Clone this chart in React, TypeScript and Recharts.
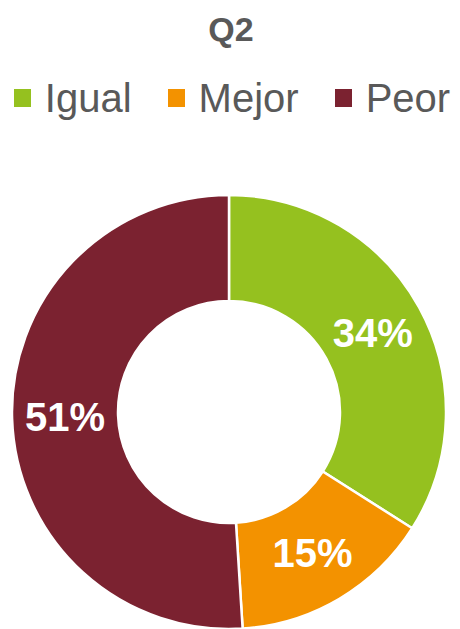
import React from "react";
import { PieChart, Pie, Cell } from "recharts";

const categories = ["Igual", "Mejor", "Peor"];
const values = [34, 15, 51];
const colors = ["#95C11F", "#F39200", "#7B2230"];
const title = "Q2";

const data = categories.map((name, i) => ({ name, value: values[i] }));

const RAD = Math.PI / 180;

const renderLabel = (props: any) => {
  const { cx, cy, midAngle, innerRadius, outerRadius, value } = props;
  const r = (innerRadius + outerRadius) / 2;
  const x = cx + r * Math.cos(-midAngle * RAD);
  const y = cy + r * Math.sin(-midAngle * RAD);
  return (
    <text
      x={x}
      y={y}
      fill="#FFFFFF"
      textAnchor="middle"
      dominantBaseline="central"
      fontFamily="'Liberation Sans', Arial, sans-serif"
      fontWeight="bold"
      fontSize={40}
    >
      {`${value}%`}
    </text>
  );
};

const LegendBox = () => (
  <div
    style={{
      position: "absolute",
      top: 78,
      left: 0,
      width: 460,
      display: "flex",
      justifyContent: "center",
      alignItems: "center",
      fontFamily: "'Liberation Sans', Arial, sans-serif",
      fontSize: 40,
      color: "#595959",
      gap: 36,
      paddingLeft: 4,
      boxSizing: "border-box",
    }}
  >
    {categories.map((c, i) => (
      <div key={c} style={{ display: "flex", alignItems: "center" }}>
        <span
          style={{
            display: "inline-block",
            width: 17,
            height: 18,
            background: colors[i],
            marginRight: 14,
          }}
        />
        <span style={{ lineHeight: "40px" }}>{c}</span>
      </div>
    ))}
  </div>
);

export default function App() {
  return (
    <div style={{ position: "absolute", left: 0, top: 0, width: 460, height: 629, background: "#fff" }}>
      <PieChart width={460} height={629} margin={{ top: 0, right: 0, bottom: 0, left: 0 }}>
        <Pie
          data={data}
          dataKey="value"
          nameKey="name"
          cx={229}
          cy={412}
          innerRadius={111}
          outerRadius={217}
          startAngle={90}
          endAngle={-270}
          stroke="#FFFFFF"
          strokeWidth={2.5}
          label={renderLabel}
          labelLine={false}
          isAnimationActive={false}
        >
          {data.map((d, i) => (
            <Cell key={d.name} fill={colors[i]} />
          ))}
        </Pie>
      </PieChart>
      <div
        style={{
          position: "absolute",
          top: 10,
          left: 0,
          width: 460,
          textAlign: "center",
          fontFamily: "'Liberation Sans', Arial, sans-serif",
          fontWeight: "bold",
          fontSize: 34,
          lineHeight: "38px",
          color: "#595959",
          paddingLeft: 2,
          boxSizing: "border-box",
        }}
      >
        {title}
      </div>
      <LegendBox />
    </div>
  );
}
